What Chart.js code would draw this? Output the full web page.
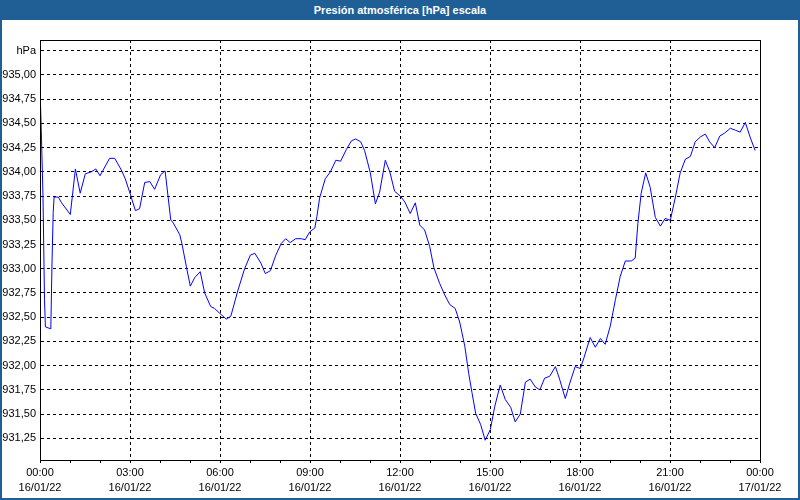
<!DOCTYPE html>
<html>
<head>
<meta charset="utf-8">
<script src="https://cdn.jsdelivr.net/npm/chart.js@4"></script>
<style>
    body { margin: 0; background: #fff; }
    #marco {
        width: 800px; height: 500px; box-sizing: border-box;
        border: 2px solid #1f5f96; border-top: none; position: relative;
    }
    #titulo {
        height: 20px; margin: 0 -2px; background: #1f5f96; color: #fff;
        font: bold 11px "Liberation Sans", Arial, sans-serif;
        text-align: center; line-height: 20px;
    }
    canvas { display: block; }
</style>
</head>
<body>
<div id="marco">
    <div id="titulo">Presión atmosférica [hPa] escala</div>
    <canvas id="presChart" width="796" height="478"></canvas>
</div>
<script>
// horas desde 16/01/22 00:00
const horas = [
    0.00, 0.05, 0.10, 0.15, 0.18, 0.36, 0.40, 0.44, 0.47, 0.61, 0.72,
    1.01, 1.18, 1.34, 1.51, 1.71, 1.86, 2.00, 2.16, 2.32, 2.49, 2.71, 2.84,
    3.02, 3.18, 3.32, 3.49, 3.66, 3.82, 4.02, 4.17, 4.36, 4.43, 4.66, 4.73, 4.88,
    5.01, 5.16, 5.34, 5.49, 5.69, 5.82, 5.99, 6.21, 6.36, 6.60, 6.82,
    7.01, 7.16, 7.36, 7.51, 7.68, 7.86, 8.04, 8.19, 8.34, 8.52, 8.71, 8.84,
    8.99, 9.16, 9.23, 9.32, 9.51, 9.68, 9.86, 10.02, 10.21, 10.38, 10.52, 10.69, 10.82,
    11.01, 11.18, 11.32, 11.51, 11.66, 11.82, 12.01, 12.16, 12.34, 12.51, 12.66, 12.82,
    12.99, 13.13, 13.32, 13.49, 13.66, 13.84, 13.99, 14.16, 14.29, 14.40, 14.52, 14.69, 14.84,
    15.01, 15.16, 15.34, 15.51, 15.69, 15.84, 16.01, 16.18, 16.34, 16.51, 16.66, 16.82,
    16.99, 17.18, 17.32, 17.51, 17.66, 17.84, 18.01, 18.13, 18.34, 18.51, 18.68, 18.84,
    19.01, 19.18, 19.34, 19.51, 19.71, 19.84, 19.93, 20.04, 20.19, 20.34, 20.51, 20.68, 20.84,
    21.01, 21.18, 21.34, 21.51, 21.68, 21.84, 22.01, 22.18, 22.32, 22.49, 22.66, 22.82,
    23.01, 23.18, 23.34, 23.51, 23.68, 23.84
];
const presion = [
    934.88, 934.34, 933.74, 932.68, 932.40, 932.38, 933.06, 933.58, 933.74, 933.74, 933.68,
    933.56, 934.03, 933.78, 933.98, 934.00, 934.03, 933.96, 934.05, 934.14, 934.14, 934.02, 933.93,
    933.76, 933.60, 933.62, 933.89, 933.90, 933.82, 933.97, 934.01, 933.50, 933.48, 933.35, 933.26, 933.02,
    932.82, 932.91, 932.97, 932.75, 932.61, 932.59, 932.54, 932.48, 932.51, 932.78, 933.00,
    933.14, 933.16, 933.06, 932.95, 932.98, 933.14, 933.26, 933.31, 933.27, 933.31, 933.31, 933.30,
    933.38, 933.42, 933.54, 933.73, 933.93, 934.00, 934.12, 934.11, 934.23, 934.32, 934.34, 934.31, 934.22,
    933.99, 933.67, 933.79, 934.12, 934.00, 933.80, 933.75, 933.69, 933.57, 933.68, 933.45, 933.40,
    933.23, 933.01, 932.85, 932.73, 932.63, 932.59, 932.45, 932.20, 931.92, 931.72, 931.51, 931.39, 931.23,
    931.34, 931.58, 931.80, 931.65, 931.57, 931.42, 931.50, 931.83, 931.86, 931.78, 931.75, 931.87,
    931.89, 931.99, 931.86, 931.66, 931.82, 931.99, 931.97, 932.08, 932.29, 932.19, 932.28, 932.22,
    932.41, 932.68, 932.92, 933.08, 933.08, 933.11, 933.47, 933.78, 933.99, 933.84, 933.53, 933.44, 933.52,
    933.50, 933.74, 933.99, 934.13, 934.16, 934.31, 934.36, 934.39, 934.31, 934.25, 934.37, 934.40,
    934.45, 934.43, 934.41, 934.51, 934.35, 934.22
];
const etiquetasHora = ['00:00', '03:00', '06:00', '09:00', '12:00', '15:00', '18:00', '21:00', '00:00'];
const etiquetasFecha = ['16/01/22', '16/01/22', '16/01/22', '16/01/22', '16/01/22', '16/01/22', '16/01/22', '16/01/22', '17/01/22'];
const unidad = 'hPa';

const fuente = { family: '"Liberation Sans", Arial, sans-serif', size: 11 };

// marco negro arriba y a la derecha
const bordeArea = {
    id: 'bordeArea',
    afterDraw(chart) {
        const a = chart.chartArea;
        const ctx = chart.ctx;
        ctx.save();
        ctx.strokeStyle = '#000';
        ctx.lineWidth = 1;
        ctx.strokeRect(Math.round(a.left) + 0.5, Math.round(a.top) + 0.5,
            Math.round(a.right - a.left), Math.round(a.bottom - a.top));
        ctx.restore();
    }
};

new Chart(document.getElementById('presChart').getContext('2d'), {
    type: 'line',
    data: {
        datasets: [{
            data: horas.map((h, i) => ({ x: h, y: presion[i] })),
            borderColor: '#0000ff',
            borderWidth: 1,
            pointRadius: 0,
            tension: 0,
            fill: false
        }]
    },
    options: {
        responsive: false,
        animation: false,
        devicePixelRatio: 1,
        layout: { padding: { top: 20, right: 38, left: 0, bottom: 0 } },
        plugins: { legend: { display: false }, tooltip: { enabled: false } },
        scales: {
            x: {
                type: 'linear',
                min: 0,
                max: 24,
                afterFit: s => { s.height = 38; },
                ticks: {
                    stepSize: 1,
                    autoSkip: false,
                    maxRotation: 0,
                    padding: 3,
                    color: '#000',
                    font: { ...fuente, lineHeight: 1.35 },
                    callback: v => v % 3 === 0 ? [etiquetasHora[v / 3], etiquetasFecha[v / 3]] : ''
                },
                grid: {
                    color: ctx => (ctx.tick && ctx.tick.value % 3 === 0) ? '#000' : 'rgba(0,0,0,0)',
                    tickColor: '#000',
                    tickLength: 3,
                    lineWidth: 1
                },
                border: { color: '#000', width: 1, dash: [3, 3] }
            },
            y: {
                min: 931.026,
                max: 935.361,
                afterFit: s => { s.width = 38; },
                ticks: {
                    stepSize: 0.25,
                    includeBounds: false,
                    padding: 4,
                    color: '#000',
                    font: fuente,
                    callback: v => Math.abs(v - 935.25) < 0.001 ? unidad : v.toFixed(2).replace('.', ',')
                },
                grid: { color: '#000', drawTicks: false, lineWidth: 1 },
                border: { color: '#000', width: 1, dash: [3, 3] }
            }
        }
    },
    plugins: [bordeArea]
});
</script>
</body>
</html>
